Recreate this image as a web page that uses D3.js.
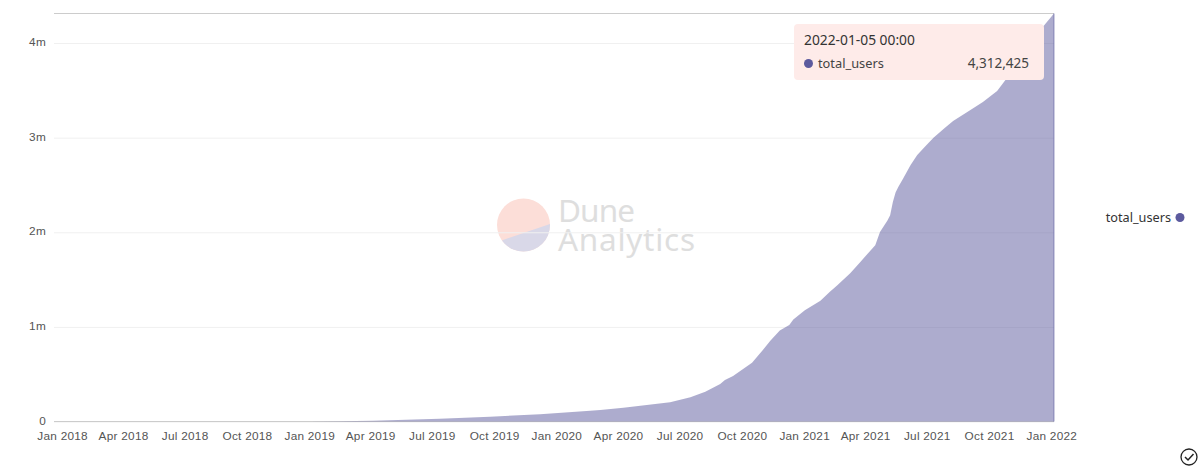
<!DOCTYPE html>
<html>
<head>
<meta charset="utf-8">
<script src="https://cdn.jsdelivr.net/npm/d3@7"></script>
<style>
html, body { margin: 0; padding: 0; background: #fff; overflow: hidden; }
svg { display: block; font-family: "Noto Sans", sans-serif; }
.tick text { font-size: 11.8px; letter-spacing: 0.25px; fill: #555; }
.tick line { stroke: #f0f0f0; }
</style>
</head>
<body>
<svg id="chart" width="1203" height="470"></svg>
<script>
// total_users
const rows = [
  ["2017-12-20", 0], ["2018-01-01", 0], ["2018-07-01", 0], ["2019-01-01", 500],
  ["2019-02-15", 2000], ["2019-04-05", 8000], ["2019-07-13", 30000], ["2019-09-25", 51000],
  ["2019-12-08", 76000], ["2020-02-20", 114000], ["2020-03-06", 121000], ["2020-04-09", 146000],
  ["2020-06-17", 203000], ["2020-07-17", 256000], ["2020-08-08", 315000], ["2020-08-30", 396000],
  ["2020-09-06", 438000], ["2020-09-18", 480000], ["2020-10-16", 621000], ["2020-11-01", 755000],
  ["2020-11-12", 853000], ["2020-11-26", 961000], ["2020-12-10", 1019000], ["2020-12-16", 1077000],
  ["2021-01-02", 1177000], ["2021-01-25", 1276000], ["2021-02-08", 1372000], ["2021-02-19", 1441000],
  ["2021-03-10", 1568000], ["2021-03-25", 1687000], ["2021-04-16", 1864000], ["2021-04-23", 2004000],
  ["2021-05-04", 2125000], ["2021-05-08", 2181000], ["2021-05-12", 2320000], ["2021-05-16", 2420000],
  ["2021-05-20", 2479000], ["2021-05-27", 2566000], ["2021-06-07", 2709000], ["2021-06-17", 2817000],
  ["2021-06-29", 2910000], ["2021-07-11", 3000000], ["2021-07-28", 3105000], ["2021-08-09", 3176000],
  ["2021-09-03", 3289000], ["2021-09-22", 3377000], ["2021-10-13", 3493000], ["2021-10-25", 3606000],
  ["2021-11-16", 3817000], ["2021-12-08", 4050000], ["2021-12-20", 4176000], ["2022-01-05", 4312425]
];
const parse = d3.utcParse("%Y-%m-%d");
const data = rows.map(d => ({ date: parse(d[0]), users: d[1] }));
const color = "#5c5a9e";

const x = d3.scaleUtc()
  .domain([parse("2017-12-20"), parse("2022-01-05")])
  .range([54, 1054]);
const y = d3.scaleLinear()
  .domain([0, 4312425])
  .range([421.5, 13.5]);

const svg = d3.select("#chart");

// watermark
const mark = svg.append("g");
svg.append("defs").append("clipPath").attr("id", "logo")
  .append("circle").attr("cx", 523.5).attr("cy", 225).attr("r", 26.5);
const logo = mark.append("g").attr("clip-path", "url(#logo)");
logo.append("rect").attr("x", 490).attr("y", 190).attr("width", 70).attr("height", 70).attr("fill", "#fcded8");
logo.append("path").attr("d", "M490,250 L503,240 L550,224 L560,220 L560,260 L490,260 Z").attr("fill", "#d9d8e8");
mark.selectAll("text")
  .data([["Dune", 222, 77], ["Analytics", 251, 137]])
  .join("text")
  .attr("x", 558)
  .attr("y", d => d[1])
  .attr("font-size", 31.5)
  .attr("textLength", d => d[2])
  .attr("fill", "#dedede")
  .text(d => d[0]);

// grid and y labels
svg.append("g")
  .attr("transform", "translate(54,0)")
  .call(d3.axisLeft(y)
    .tickValues([0, 1e6, 2e6, 3e6, 4e6])
    .tickFormat(d => d === 0 ? "0" : d / 1e6 + "m")
    .tickSize(-1000)
    .tickPadding(8))
  .call(g => g.selectAll("text").attr("dy", "0.22em"))
  .call(g => g.select(".domain").remove());

// frame lines
svg.append("line").attr("x1", 54).attr("x2", 1054).attr("y1", 13.5).attr("y2", 13.5).attr("stroke", "#ccc");
svg.append("line").attr("x1", 54).attr("x2", 1054).attr("y1", 421.5).attr("y2", 421.5).attr("stroke", "#ccc");

// x labels
svg.append("g")
  .attr("transform", "translate(0,421.5)")
  .call(d3.axisBottom(x)
    .tickValues(d3.utcMonth.range(parse("2018-01-01"), parse("2022-01-02"), 3))
    .tickFormat(d3.utcFormat("%b %Y"))
    .tickSize(0)
    .tickPadding(10))
  .call(g => g.select(".domain").remove());

// area
const area = d3.area()
  .x(d => x(d.date))
  .y0(y(0))
  .y1(d => y(d.users));
svg.append("path")
  .datum(data)
  .attr("d", area)
  .attr("fill", color)
  .attr("fill-opacity", 0.5);

// hover line at the last point
const last = data[data.length - 1];
svg.append("line")
  .attr("x1", x(last.date)).attr("x2", x(last.date))
  .attr("y1", y(last.users)).attr("y2", y(0))
  .attr("stroke", color).attr("stroke-opacity", 0.6);

// tooltip
const tip = svg.append("g");
tip.append("rect")
  .attr("x", 794).attr("y", 24).attr("width", 250).attr("height", 56).attr("rx", 4)
  .attr("fill", "#feebe9");
tip.append("text").attr("x", 804).attr("y", 45).attr("font-size", 13.8).attr("fill", "#333")
  .text(d3.utcFormat("%Y-%m-%d %H:%M")(last.date));
tip.append("circle").attr("cx", 808.5).attr("cy", 63.5).attr("r", 4.5).attr("fill", color);
tip.append("text").attr("x", 818).attr("y", 68).attr("font-size", 12.8).attr("fill", "#444").text("total_users");
tip.append("text").attr("x", 1029).attr("y", 68).attr("font-size", 13.5).attr("fill", "#444")
  .attr("text-anchor", "end").text(d3.format(",")(last.users));

// legend
svg.append("text").attr("x", 1171).attr("y", 222).attr("font-size", 12.7).attr("fill", "#333")
  .attr("text-anchor", "end").text("total_users");
svg.append("circle").attr("cx", 1180).attr("cy", 217.5).attr("r", 4.5).attr("fill", color);

// check icon
svg.append("circle").attr("cx", 1189).attr("cy", 457).attr("r", 8)
  .attr("fill", "none").attr("stroke", "#222").attr("stroke-width", 1.3);
svg.append("path").attr("d", "M1185,457 L1188,460 L1193.5,454")
  .attr("fill", "none").attr("stroke", "#222").attr("stroke-width", 1.5);
</script>
</body>
</html>
